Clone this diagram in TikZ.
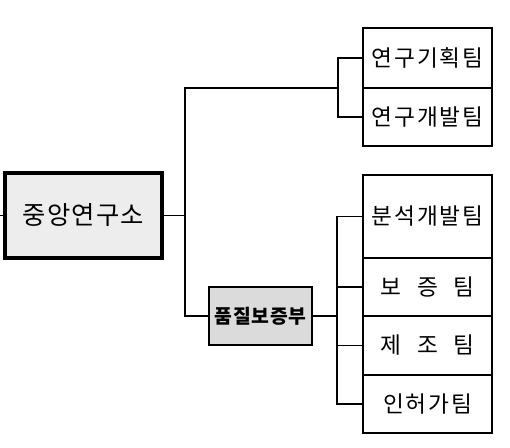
\documentclass[tikz,border=0pt]{standalone}
\usepackage{fontspec}
\newfontfamily\kr{Noto Sans CJK KR}
\tikzset{every picture/.style={line width=0.9pt}}
\tikzset{
  teambox/.style={draw, line width=0.9pt, fill=white, inner sep=0pt, minimum width=96.75pt, font=\kr\fontsize{17}{19}\selectfont\addfontfeatures{LetterSpace=8}},
  lab/.style={draw, line width=2.8pt, fill=gray!14, inner sep=0pt, minimum width=117.75pt, minimum height=63.75pt, font=\kr\fontsize{19}{21}\selectfont\addfontfeatures{LetterSpace=5}},
  dept/.style={draw, line width=1.4pt, fill=gray!28, inner sep=0pt, minimum width=77.25pt, minimum height=43.5pt, font=\kr\bfseries\fontsize{14.5}{16}\selectfont\addfontfeatures{LetterSpace=4}}
}

\begin{document}
\begin{tikzpicture}[x=0.75pt,y=0.75pt,yscale=-1,xscale=1]
\useasboundingbox (0,0) rectangle (510,448);

%Shape: Rectangle [id:lab]
\node (cen) at (83.5,215.5) [lab] {중앙연구소};
%Shape: Rectangle [id:dept]
\node (qa) at (260.5,316) [dept] {품질보증부};

%Shape: Rectangle [id:teams]
\node (plan) at (427.5,58) [teambox, minimum height=45pt] {연구기획팀};
\node (dev) at (427.5,117) [teambox, minimum height=43.5pt] {연구개발팀};
\node (ana) at (427.5,216.5) [teambox, minimum height=62.25pt] {분석개발팀};
\node (asr) at (427.5,287) [teambox, minimum height=43.5pt] {보\hspace{0.7em}증\hspace{0.7em}팀};
\node (mfg) at (427.5,345.5) [teambox, minimum height=44.25pt] {제\hspace{0.7em}조\hspace{0.7em}팀};
\node (lic) at (427.5,404) [teambox, minimum height=43.5pt] {인허가팀};

%Straight Lines
\coordinate (lft) at (0,215.5);
\coordinate (trunk) at (185,215.5);
\coordinate (rb) at (338,88);
\coordinate (qb) at (337,316);
\draw (lft) -- (cen.west);
\draw (cen.east) -- (trunk);
\draw (trunk) |- (rb);
\draw (trunk) |- (qa.west);
%Straight Lines
\draw (plan.west) -| (rb) |- (dev.west);
%Straight Lines
\draw (qa.east) -- (qb);
\draw (qb) |- (ana.west);
\draw (qb) |- (asr.west);
\draw (qb) |- (mfg.west);
\draw (qb) |- (lic.west);

\end{tikzpicture}
\end{document}
